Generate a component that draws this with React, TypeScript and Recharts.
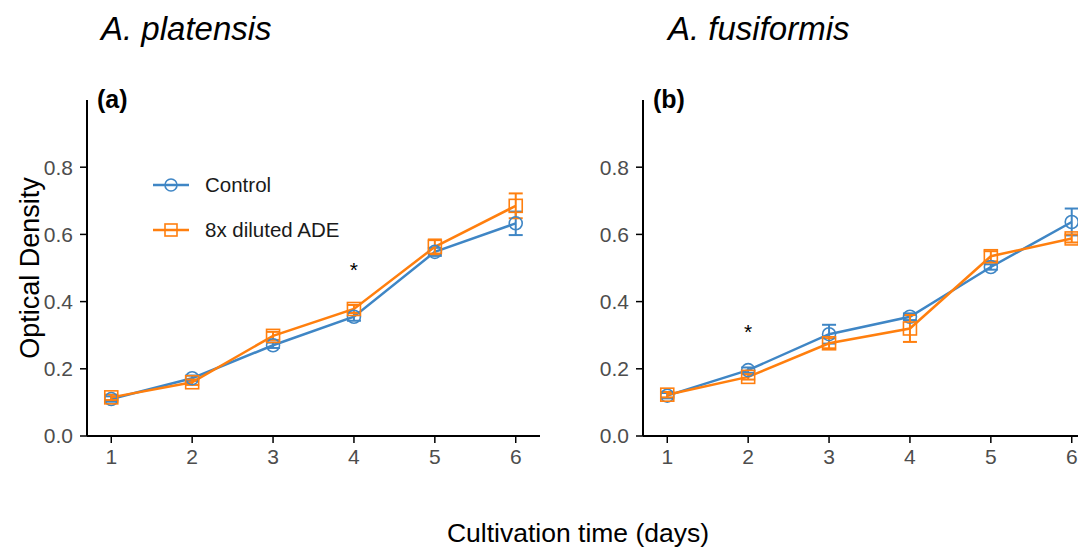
import React from "react";
import {
  LineChart, Line, XAxis, YAxis, ErrorBar, ReferenceDot,
} from "recharts";

const days = [1, 2, 3, 4, 5, 6];
const yTicks = [0, 0.2, 0.4, 0.6, 0.8];

// A. platensis
const ctrlA = [0.11, 0.172, 0.27, 0.355, 0.548, 0.633];
const ctrlAErr = [0.008, 0.008, 0.008, 0.012, 0.012, 0.035];
const adeA = [0.115, 0.16, 0.298, 0.378, 0.563, 0.685];
const adeAErr = [0.008, 0.008, 0.012, 0.012, 0.022, 0.037];

// A. fusiformis
const ctrlB = [0.12, 0.196, 0.303, 0.355, 0.503, 0.637];
const ctrlBErr = [0.008, 0.008, 0.028, 0.01, 0.008, 0.04];
const adeB = [0.123, 0.176, 0.276, 0.32, 0.535, 0.588];
const adeBErr = [0.008, 0.008, 0.015, 0.04, 0.015, 0.012];

const starA = { day: 4, y: 0.505 };
const starB = { day: 2, y: 0.32 };

const BLUE = "#3f86c5";
const ORANGE = "#ff7f0e";
const FONT = "'Liberation Sans', Arial, sans-serif";

const rows = (c: number[], ce: number[], a: number[], ae: number[]) =>
  days.map((d, i) => ({ day: d, ctrl: c[i], ctrlErr: ce[i], ade: a[i], adeErr: ae[i] }));

const CircleDot = (p: any) =>
  p.cx == null ? null : (
    <circle key={`c${p.index}`} cx={p.cx} cy={p.cy} r={6.5} fill="none" stroke={BLUE} strokeWidth={1.6} />
  );

const SquareDot = (p: any) =>
  p.cx == null ? null : (
    <rect key={`s${p.index}`} x={p.cx - 6.5} y={p.cy - 6.5} width={13} height={13} fill="none" stroke={ORANGE} strokeWidth={1.6} />
  );

const legendItems = [
  { label: "Control", color: BLUE, shape: "circle" },
  { label: "8x diluted ADE", color: ORANGE, shape: "square" },
];

const LegendBox = () => (
  <div style={{ position: "absolute", left: 151, top: 162, fontFamily: FONT, fontSize: 20.5, color: "#1a1a1a" }}>
    {legendItems.map((it) => (
      <div key={it.label} style={{ display: "flex", alignItems: "center", height: 45 }}>
        <svg width={40} height={16} style={{ marginRight: 14 }}>
          <line x1={2} y1={8} x2={38} y2={8} stroke={it.color} strokeWidth={2.5} />
          {it.shape === "circle" ? (
            <circle cx={20} cy={8} r={6} fill="none" stroke={it.color} strokeWidth={1.6} />
          ) : (
            <rect x={14} y={2} width={12} height={12} fill="none" stroke={it.color} strokeWidth={1.6} />
          )}
        </svg>
        <span>{it.label}</span>
      </div>
    ))}
  </div>
);

function Panel({ data, star, tag }: any) {
  return (
    <LineChart
      width={560}
      height={548}
      data={data}
      margin={{ top: 100, right: 20, bottom: 82, left: 37 }}
    >
      <XAxis
        dataKey="day"
        type="number"
        domain={[0.7, 6.3]}
        ticks={days}
        height={30}
        stroke="#000"
        strokeWidth={2}
        tickSize={7}
        tickMargin={6}
        tick={{ fill: "#4d4d4d", fontSize: 21, fontFamily: FONT }}
        tickLine={{ stroke: "#000", strokeWidth: 1.5 }}
      />
      <YAxis
        width={50}
        domain={[0, 1]}
        ticks={yTicks}
        tickFormatter={(v: number) => v.toFixed(1)}
        stroke="#000"
        strokeWidth={2}
        tickSize={7}
        tickMargin={7}
        tick={{ fill: "#4d4d4d", fontSize: 21, fontFamily: FONT }}
        tickLine={{ stroke: "#000", strokeWidth: 1.5 }}
      />
      <Line
        dataKey="ctrl"
        name="Control"
        stroke={BLUE}
        strokeWidth={2.5}
        dot={CircleDot}
        activeDot={false}
        isAnimationActive={false}
      >
        <ErrorBar dataKey="ctrlErr" width={7} stroke={BLUE} strokeWidth={2} direction="y" />
      </Line>
      <Line
        dataKey="ade"
        name="8x diluted ADE"
        stroke={ORANGE}
        strokeWidth={2.5}
        dot={SquareDot}
        activeDot={false}
        isAnimationActive={false}
      >
        <ErrorBar dataKey="adeErr" width={7} stroke={ORANGE} strokeWidth={2} direction="y" />
      </Line>
      <ReferenceDot
        x={star.day}
        y={star.y}
        r={0}
        fill="none"
        stroke="none"
        label={{ value: "*", position: "center", fill: "#000", fontSize: 21, fontFamily: FONT, dy: 3 }}
      />
      <text x={97} y={108} fontFamily={FONT} fontWeight="bold" fontSize={25} fill="#000">
        {tag}
      </text>
    </LineChart>
  );
}

export default function App() {
  const dataA = rows(ctrlA, ctrlAErr, adeA, adeAErr);
  const dataB = rows(ctrlB, ctrlBErr, adeB, adeBErr);
  return (
    <div
      style={{
        position: "relative",
        width: 1086,
        height: 548,
        margin: "-8px 0 0 -8px",
        overflow: "hidden",
        background: "#fff",
        fontFamily: FONT,
      }}
    >
      <div style={{ position: "absolute", left: 0, top: 0 }}>
        <Panel data={dataA} star={starA} tag="(a)" />
      </div>
      <div style={{ position: "absolute", left: 556, top: 0 }}>
        <Panel data={dataB} star={starB} tag="(b)" />
      </div>
      <LegendBox />
      <div style={{ position: "absolute", left: 101, top: 10, fontSize: 33, fontStyle: "italic" }}>
        A. platensis
      </div>
      <div style={{ position: "absolute", left: 668, top: 10, fontSize: 33, fontStyle: "italic" }}>
        A. fusiformis
      </div>
      <div
        style={{
          position: "absolute",
          left: 30,
          top: 268,
          fontSize: 27,
          whiteSpace: "nowrap",
          transform: "translate(-50%, -50%) rotate(-90deg)",
        }}
      >
        Optical Density
      </div>
      <div
        style={{
          position: "absolute",
          left: 578,
          top: 533,
          fontSize: 26.5,
          whiteSpace: "nowrap",
          transform: "translate(-50%, -50%)",
        }}
      >
        Cultivation time (days)
      </div>
    </div>
  );
}
